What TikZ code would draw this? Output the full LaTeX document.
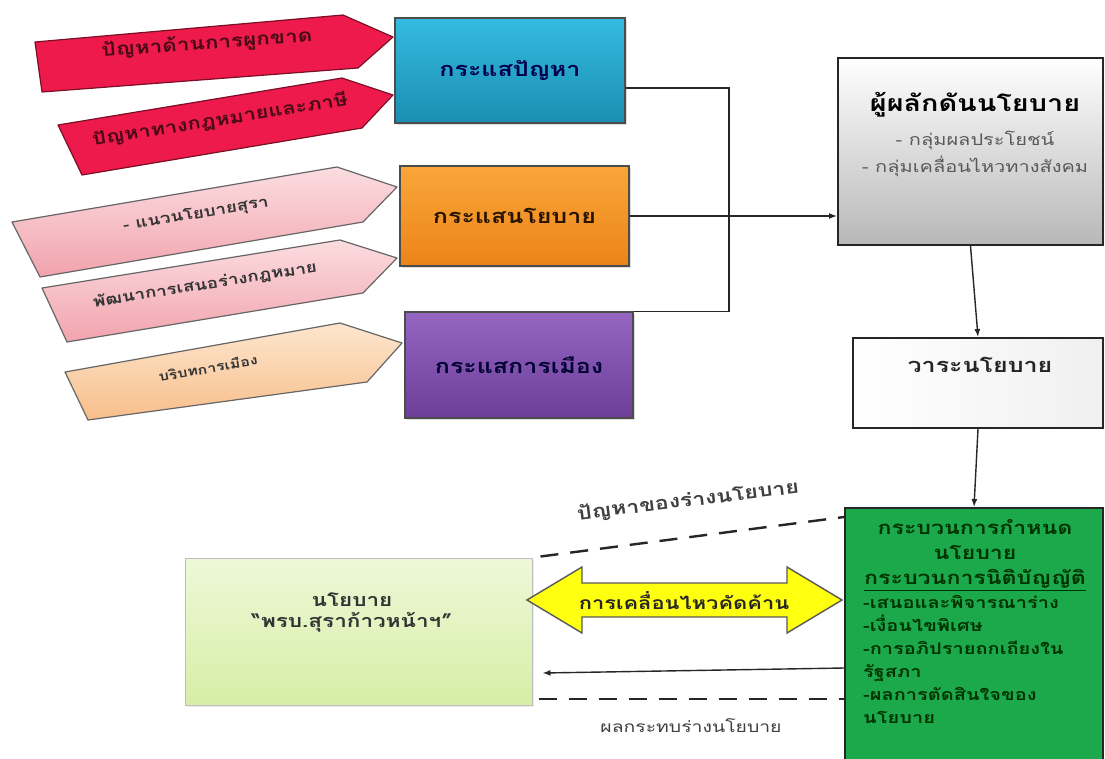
\documentclass[tikz,border=0pt]{standalone}
\usepackage{fontspec}
\setmainfont[Script=Thai, FakeStretch=1.25]{Loma}
\usetikzlibrary{arrows.meta,shadows,calc}
\definecolor{redA}{HTML}{EE1A4C}
\definecolor{redB}{HTML}{7A0F25}
\definecolor{pinkT}{HTML}{FBDDE0}
\definecolor{pinkB}{HTML}{F2A3AD}
\definecolor{peachT}{HTML}{FDE6CF}
\definecolor{peachB}{HTML}{F8BE8A}
\definecolor{blueT}{HTML}{35BCE0}
\definecolor{blueB}{HTML}{1B8DB2}
\definecolor{orangeT}{HTML}{FAA63A}
\definecolor{orangeB}{HTML}{EC8418}
\definecolor{purpleT}{HTML}{9566C2}
\definecolor{purpleB}{HTML}{6C3E98}
\definecolor{greenF}{HTML}{1CA94C}
\definecolor{lgT}{HTML}{EEF8D8}
\definecolor{lgB}{HTML}{D6EEA6}
\definecolor{yellowF}{HTML}{FFFF10}
\newcommand{\fs}[1]{\fontsize{#1}{#1}\selectfont}
\begin{document}
\begin{tikzpicture}[x=1pt,y=-1pt,
  tagshape/.style={draw=#1, line width=1.2pt, line join=round},
  tagtext/.style={font=\bfseries\fs{#1}, text=black!80, inner sep=0pt},
  stream/.style={draw=black!70, line width=1.3pt, minimum width=#1, font=\bfseries\fs{20}, drop shadow={opacity=0.25, shadow xshift=2pt, shadow yshift=-2pt}},
  conn/.style={draw=black!85, line width=1.4pt},
  tip/.style={-{Latex[length=8pt,width=6pt]}},
  dashline/.style={draw=black!85, line width=2.4pt, dash pattern=on 18pt off 12pt},
  boxline/.style={draw=black!85, line width=2pt},
]
\useasboundingbox (0,0) rectangle (1105,758);
\fill[white] (0,0) rectangle (1105,758);

% tag arrows
\filldraw[tagshape=redB, fill=redA] (35,42) -- (343,15) -- (393,37) -- (358,68) -- (42,92) -- cycle;
\node[tagtext=18, text=redB!60!black, rotate=4] (t1) at (207,44) {ปัญหาด้านการผูกขาด};
\filldraw[tagshape=redB, fill=redA] (58,125) -- (342,78) -- (393,95) -- (362,128) -- (82,175) -- cycle;
\node[tagtext=17.5, text=redB!60!black, rotate=9] (t2) at (220,120) {ปัญหาทางกฎหมายและภาษี};
\shade[top color=pinkT, bottom color=pinkB] (12,222) -- (337,167) -- (397,187) -- (363,222) -- (40,277) -- cycle;
\draw[tagshape=black!60] (12,222) -- (337,167) -- (397,187) -- (363,222) -- (40,277) -- cycle;
\node[tagtext=15, rotate=9.5] (t3) at (196,215) {- แนวนโยบายสุรา};
\shade[top color=pinkT, bottom color=pinkB] (42,288) -- (340,240) -- (397,258) -- (363,293) -- (67,342) -- cycle;
\draw[tagshape=black!60] (42,288) -- (340,240) -- (397,258) -- (363,293) -- (67,342) -- cycle;
\node[tagtext=15, rotate=9] (t4) at (205,285) {พัฒนาการเสนอร่างกฎหมาย};
\shade[top color=peachT, bottom color=peachB] (65,372) -- (340,323) -- (402,343) -- (367,382) -- (88,420) -- cycle;
\draw[tagshape=black!60] (65,372) -- (340,323) -- (402,343) -- (367,382) -- (88,420) -- cycle;
\node[tagtext=12.8, rotate=10] (t5) at (208,368) {บริบทการเมือง};

% stream boxes
\node[stream=230pt, minimum height=105pt, top color=blueT, bottom color=blueB, text=blue!30!black] (pstream) at (510,70.5) {กระแสปัญหา};
\node[stream=229pt, minimum height=100pt, top color=orangeT, bottom color=orangeB, text=black!85!orange] (policy) at (514.5,216) {กระแสนโยบาย};
\node[stream=228pt, minimum height=106pt, top color=purpleT, bottom color=purpleB, text=blue!20!black] (politic) at (519,365) {กระแสการเมือง};

% policy entrepreneurs
\node[boxline, minimum width=265pt, minimum height=187pt, top color=white, bottom color=black!28] (gray) at (970.5,151.5) {};
\node[font=\bfseries\fs{23}, inner sep=0pt] (grayt) at (975,105) {ผู้ผลักดันนโยบาย};
\node[align=center, font=\fontsize{16}{27}\selectfont, text=black!65, inner sep=0pt] (grays) at (975,154) {- กลุ่มผลประโยชน์\\- กลุ่มเคลื่อนไหวทางสังคม};

\node[boxline, minimum width=250pt, minimum height=90pt, left color=white, right color=black!6] (agenda) at (978,383) {};
\node[font=\bfseries\fs{20}, text=black!85] (agendat) at (980,365) {วาระนโยบาย};

\node[boxline, minimum width=258pt, minimum height=252pt, fill=greenF] (proc) at (974,634) {};
\node[align=center, font=\bfseries\fontsize{18.5}{25}\selectfont, text=black!80!green, inner sep=0pt] (proct) at (975,555) {กระบวนการกำหนด\\นโยบาย\\\underline{กระบวนการนิติบัญญัติ}};
\node[align=left, anchor=north west, font=\bfseries\fontsize{16}{23}\selectfont, text=black!80!green, inner sep=0pt] (procl) at (863,595) {-เสนอและพิจารณาร่าง\\-เงื่อนไขพิเศษ\\-การอภิปรายถกเถียงใน\\รัฐสภา\\-ผลการตัดสินใจของ\\นโยบาย};

\node[draw=black!25, line width=1pt, minimum width=347pt, minimum height=147pt, top color=lgT, bottom color=lgB, drop shadow={opacity=0.15, shadow xshift=2pt, shadow yshift=-2pt}] (law) at (358.5,631.5) {};
\node[align=center, font=\bfseries\fontsize{18}{21}\selectfont, text=black!80, inner sep=0pt] (lawt) at (352,612) {นโยบาย\\“พรบ.สุราก้าวหน้าฯ”};

% yellow double arrow
\filldraw[draw=black!65, line width=1.4pt, fill=yellowF, line join=miter]
  (527,600) -- (582,567) -- (582,583) -- (787,583) -- (787,567) -- (842,600) -- (787,633) -- (787,617) -- (582,617) -- (582,633) -- cycle;
\node[font=\bfseries\fs{17.5}, text=black!85] (oppose) at (684,601) {การเคลื่อนไหวคัดค้าน};

% connectors
\coordinate (bus) at (729,88);
\draw[conn] (pstream.east |- bus) -- (bus) -- (bus |- politic.north) -- (politic.north east);
\draw[conn,tip] (policy.east) -- (policy.east -| gray.west);
\draw[conn,tip] (gray.south) -- (agenda.north);
\draw[conn,tip] (agenda.south) -- (proc.north);
\draw[dashline] ($(law.north east)+(8,-1)$) -- (proc.west |- 0,517);
\draw[conn,tip] (proc.west |- 0,668) -- ($(law.east |- 0,673)+(10,0)$);
\draw[dashline] ($(law.east |- 0,699)+(6,0)$) -- (proc.west |- 0,699);
\node[font=\bfseries\fs{18.5}, text=black!75, rotate=7] (lblA) at (688,501) {ปัญหาของร่างนโยบาย};
\node[font=\fs{15.5}, text=black!75] (lblB) at (691,726) {ผลกระทบร่างนโยบาย};
\end{tikzpicture}
\end{document}
